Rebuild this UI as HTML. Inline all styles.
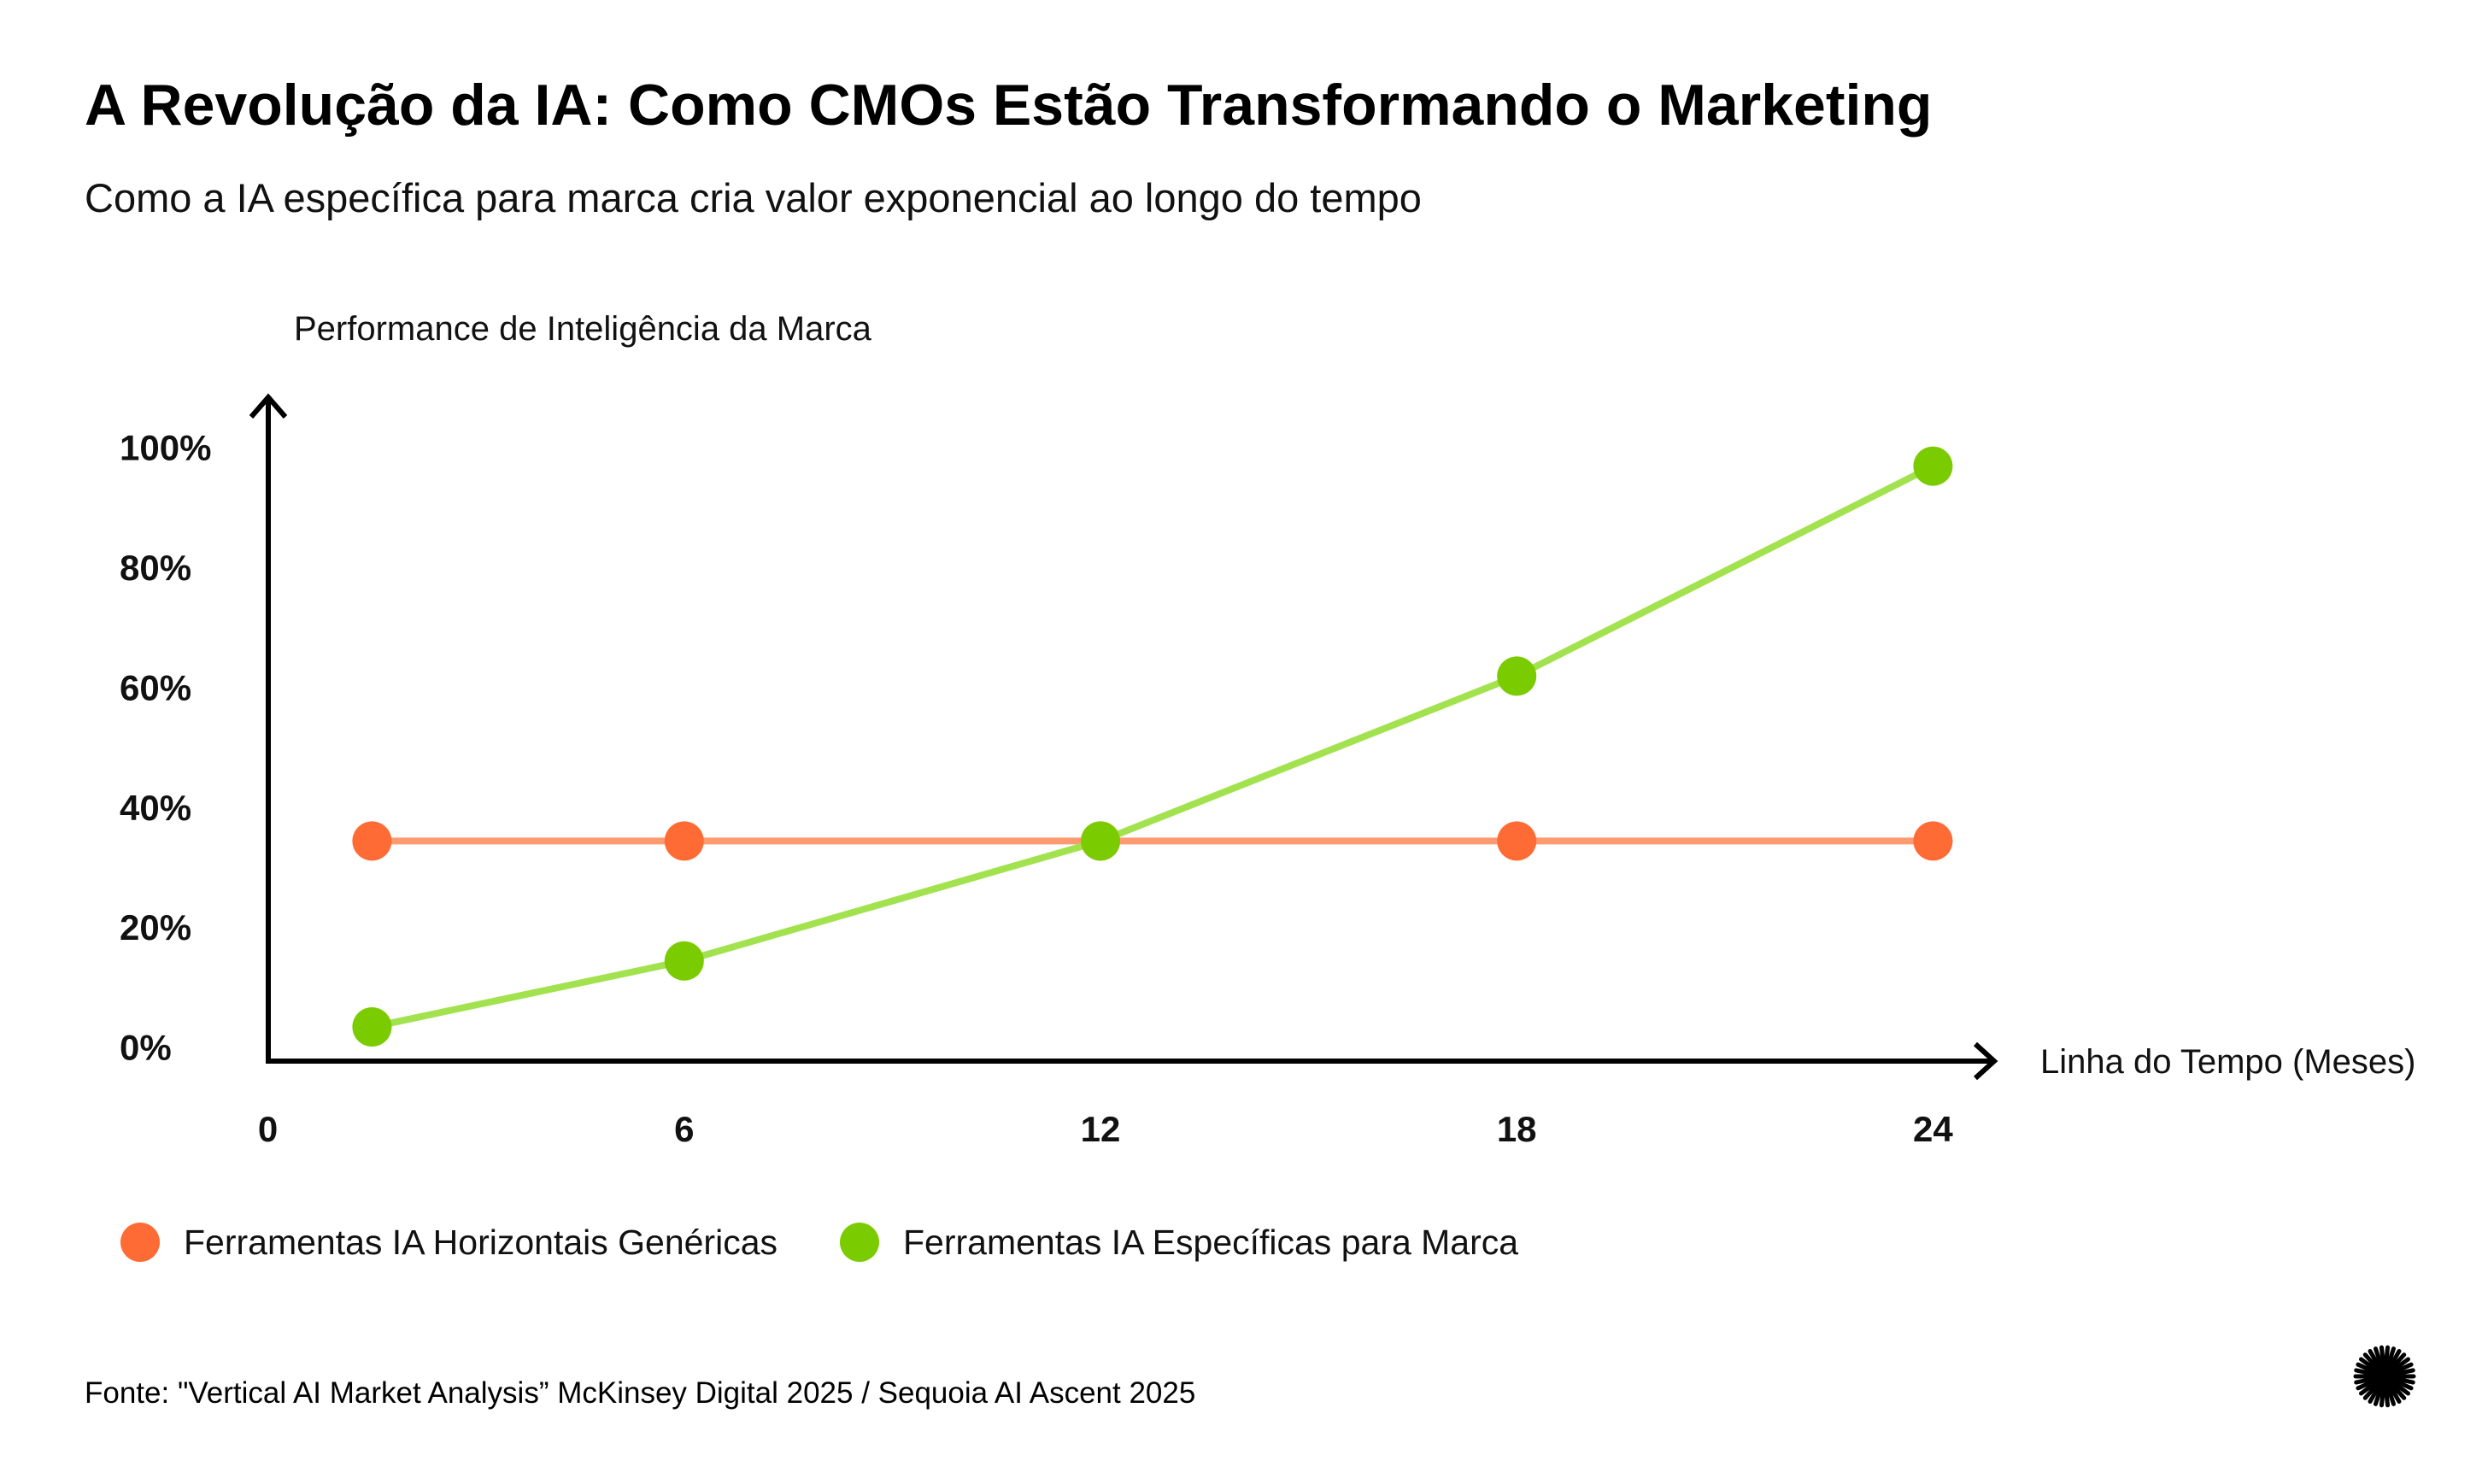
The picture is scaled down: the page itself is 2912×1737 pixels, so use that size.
<!DOCTYPE html>
<html><head><meta charset="utf-8">
<style>
body{margin:0;background:#fff;}
svg{display:block;font-family:"Liberation Sans",sans-serif;}
</style></head>
<body>
<svg id="chart" width="2912" height="1737" viewBox="0 0 2912 1737" xmlns="http://www.w3.org/2000/svg">
<rect width="2912" height="1737" fill="#fff"/>
<text x="99" y="146" font-size="68" font-weight="bold" fill="#000">A Revolução da IA: Como CMOs Estão Transformando o Marketing</text>
<text x="99" y="248" font-size="47" fill="#111">Como a IA específica para marca cria valor exponencial ao longo do tempo</text>
<text x="344" y="398" font-size="40" fill="#111">Performance de Inteligência da Marca</text>
<text x="2388" y="1256" font-size="40" fill="#111">Linha do Tempo (Meses)</text>
<g id="axes" stroke="#000" stroke-width="6" fill="none">
<line x1="314" y1="1242" x2="314" y2="470"/>
<polyline points="294,488 314,465 334,488"/>
<line x1="311" y1="1242" x2="2330" y2="1242"/>
<polyline points="2312,1222 2334,1242 2312,1262"/>
</g>
<g id="yticks"></g>
<g id="xticks"></g>
<g id="series"></g>
<g>
<circle cx="164" cy="1454" r="23" fill="#FF6B35"/>
<text x="215" y="1468" font-size="41" fill="#111">Ferramentas IA Horizontais Genéricas</text>
<circle cx="1006" cy="1454" r="23" fill="#7ACC00"/>
<text x="1057" y="1468" font-size="41" fill="#111">Ferramentas IA Específicas para Marca</text>
</g>
<text x="99" y="1642" font-size="35" fill="#000">Fonte: "Vertical AI Market Analysis” McKinsey Digital 2025 / Sequoia AI Ascent 2025</text>
<g id="logo"></g>
</svg>
<script>
const months=[1.5,6,12,18,24];
const genericValues=[34.5,34.5,34.5,34.5,34.5];
const brandValues=[3.5,14.5,34.5,62,97];
const yTicks=[0,20,40,60,80,100];
const yTickLabels=["0%","20%","40%","60%","80%","100%"];
const xTicks=[0,6,12,18,24];
const xTickLabels=["0","6","12","18","24"];

const NS="http://www.w3.org/2000/svg";
const xS=m=>313.6+m*81.2;
const yS=v=>1226.6-v*7.02;
function mk(tag,attrs,parent){const e=document.createElementNS(NS,tag);for(const k in attrs)e.setAttribute(k,attrs[k]);parent.appendChild(e);return e;}
const yg=document.getElementById('yticks');
yTicks.forEach((t,i)=>{const e=mk('text',{x:140,y:yS(t)+14,'font-size':42,'font-weight':'bold',fill:'#111'},yg);e.textContent=yTickLabels[i];

});
const xg=document.getElementById('xticks');
xTicks.forEach((t,i)=>{const e=mk('text',{x:xS(t),y:1336,'font-size':42,'font-weight':'bold','text-anchor':'middle',fill:'#111'},xg);e.textContent=xTickLabels[i];

});
const sg=document.getElementById('series');
function series(vals,line,dot,name){
 const pl=mk('polyline',{points:months.map((m,i)=>xS(m)+','+yS(vals[i])).join(' '),fill:'none',stroke:line,'stroke-width':8},sg);
 
 
 months.forEach((m,i)=>{const c=mk('circle',{cx:xS(m),cy:yS(vals[i]),r:23,fill:dot},sg);
 
 });
}
series(genericValues,'#FF9A70','#FF6B35','generic-series');
series(brandValues,'#A3E24F','#7ACC00','brand-series');
const lg=document.getElementById('logo');
for(let a=0;a<180;a+=12){const r=a*Math.PI/180;const l=mk('line',{x1:2791-34*Math.cos(r),y1:1611-34*Math.sin(r),x2:2791+34*Math.cos(r),y2:1611+34*Math.sin(r),stroke:'#000','stroke-width':5,'stroke-linecap':'round'},lg);

}
mk('circle',{cx:2791,cy:1611,r:18,fill:'#000'},lg);
</script>
</body></html>
